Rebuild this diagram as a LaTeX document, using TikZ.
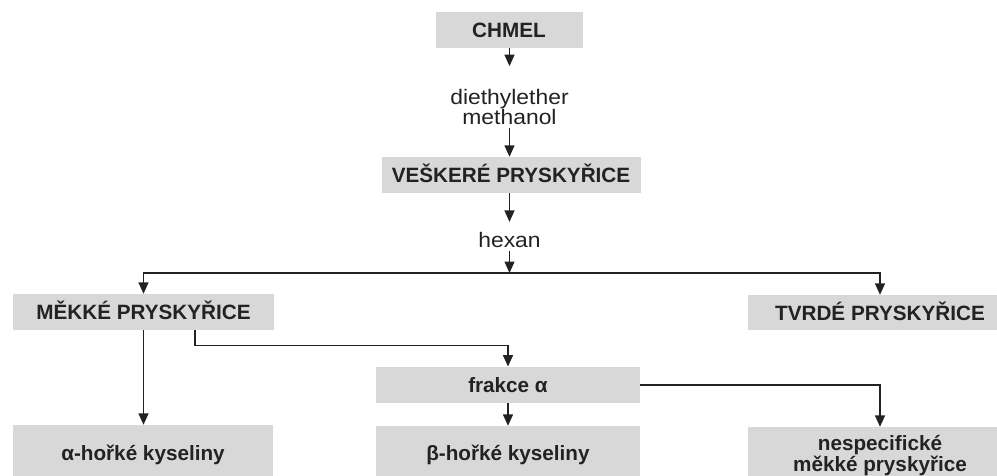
\documentclass[tikz,border=0pt]{standalone}
\usepackage{fontspec}
\setmainfont{Liberation Sans}
\newfontfamily\regfont{Liberation Sans}[FakeStretch=1.09]
\usetikzlibrary{arrows.meta}
\definecolor{boxgray}{HTML}{D8D8D8}
\definecolor{ink}{HTML}{222222}
\begin{document}
\begin{tikzpicture}[x=1pt,y=-1pt,
  box/.style={fill=boxgray, inner sep=0pt, text=ink, font=\fontsize{20.7}{21.7}\selectfont\bfseries, align=center},
  one/.style={text height=17pt, text depth=2pt},
  lbl/.style={inner sep=0pt, text=ink, font=\regfont\fontsize{21}{20}\selectfont, align=center},
  arr/.style={draw=ink, line width=1.4pt, -{Triangle[length=11.5pt,width=10pt]}}]
\useasboundingbox (0,0) rectangle (997,475);
\clip (0,0) rectangle (997,475);
\node[box, one, minimum width=147, minimum height=36] (chmel) at (509,29.7) {CHMEL};
\node[lbl] (solv) at (509.5,106.5) {diethylether\\methanol};
\node[box, one, minimum width=259, minimum height=36] (vesk) at (511,175) {VEŠKERÉ PRYSKYŘICE};
\node[lbl] (hex) at (509.5,239.5) {hexan};
\coordinate (split) at (509.5,273);
\node[box, one, minimum width=261, minimum height=36] (mekke) at (143.5,312) {MĚKKÉ PRYSKYŘICE};
\node[box, one, minimum width=264, minimum height=35] (tvrde) at (880,312.5) {TVRDÉ PRYSKYŘICE};
\node[box, one, minimum width=264, minimum height=36.5] (frakce) at (508,385) {frakce α};
\node[box, one, minimum width=260, minimum height=56] (alpha) at (143,453) {α-hořké kyseliny};
\node[box, one, minimum width=264, minimum height=54] (beta) at (508,453) {β-hořké kyseliny};
\node[box, minimum width=264, minimum height=57] (nesp) at (880,455.5) {nespecifické\\měkké pryskyřice};
\draw[arr, shorten >=22.5] (chmel.south -| solv.north) -- (solv.north);
\draw[arr, shorten <=4] (solv.south) -- (vesk.north -| solv.south);
\draw[arr, shorten >=9.7] (vesk.south -| hex.north) -- (hex.north);
\draw[arr, shorten <=4] (hex.south) -- (split);
\draw[arr] (split) -| (mekke.north);
\draw[arr] (split) -| (tvrde.north);
\draw[arr] (mekke.south) -- (mekke.south |- alpha.north);
\draw[arr] ([xshift=51.5]mekke.south) -- ++(0,15) -| (frakce.north);
\draw[arr] (frakce.south) -- (beta.north);
\draw[arr] (frakce.east) -| (nesp.north);
\end{tikzpicture}
\end{document}
